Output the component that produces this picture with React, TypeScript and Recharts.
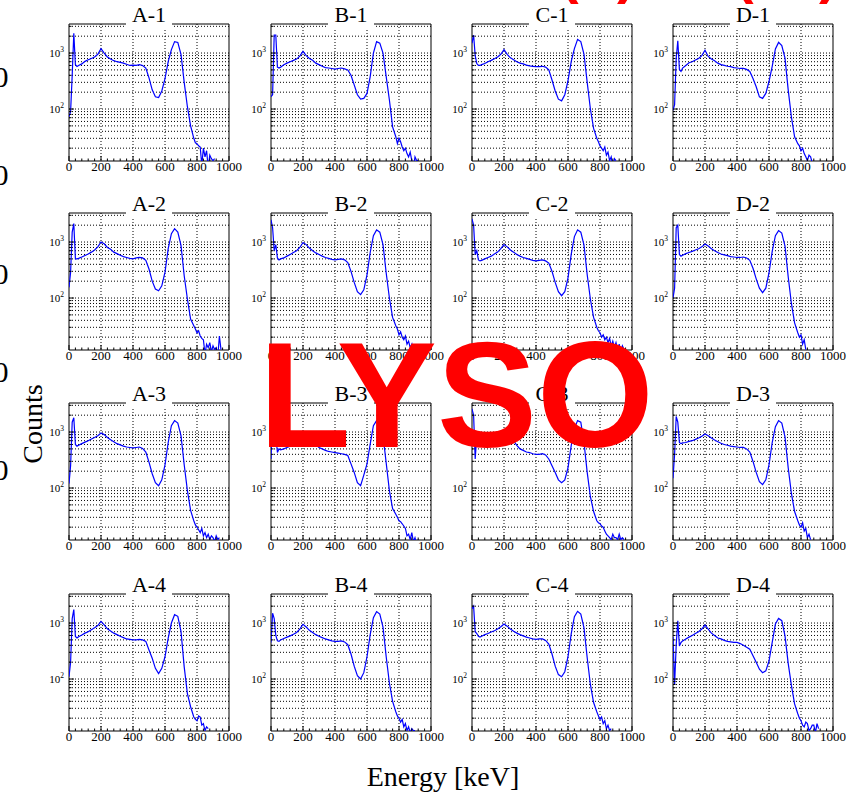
import React from "react";
import { LineChart, Line, XAxis, YAxis, CartesianGrid, ReferenceArea } from "recharts";

// Energy bin edges (keV) shared by every spectrum
const ENERGY = [
  0, 10, 20, 30, 40, 50, 60, 80, 100, 120,
  140, 160, 180, 200, 220, 240, 260, 280, 300, 320,
  340, 360, 380, 400, 420, 440, 460, 480, 500, 520,
  540, 560, 580, 600, 620, 640, 660, 680, 700, 720,
  740, 760, 780, 790, 800, 810, 820, 830, 840, 850,
  860, 870, 880, 890, 900, 910, 920, 930, 940, 950,
];

// Counts per bin for each crystal
const A1 = [73, 90, 400, 2250, 620, 575, 600, 640, 710, 760, 800, 850, 950, 1200, 1000, 850, 780, 730, 700, 680, 660, 630, 600, 610, 600, 620, 600, 540, 360, 220, 165, 160, 210, 350, 700, 1150, 1600, 1550, 950, 300, 110, 50, 30, 25, 24, 22, 21, 10, 20, 14, 18, 9, 15, 13, 12, 13, null, null, null, null];
const B1 = [166, 180, 2100, 2100, 560, 540, 560, 620, 660, 700, 740, 780, 880, 1070, 900, 800, 740, 660, 620, 580, 550, 540, 530, 516, 530, 540, 520, 500, 400, 270, 180, 150, 155, 190, 380, 1000, 1600, 1500, 1000, 380, 145, 48, 32, 24, 30, 26, 21, 18, 20, 16, 14, 17, 12, 9, 14, 12, 12, null, null, null];
const C1 = [1500, 2100, 900, 650, 600, 600, 620, 650, 700, 740, 790, 850, 950, 1150, 950, 820, 760, 700, 660, 640, 610, 590, 580, 570, 570, 580, 560, 500, 330, 210, 150, 140, 180, 320, 700, 1200, 1750, 1600, 950, 300, 100, 45, 30, 26, 22, 20, 18, 21, 15, 17, 12, 14, 9, 13, 12, null, null, null, null, null];
const D1 = [95, 120, 800, 1660, 510, 470, 540, 600, 670, 700, 750, 800, 900, 1120, 870, 780, 730, 660, 620, 600, 580, 570, 550, 540, 530, 530, 510, 470, 350, 250, 165, 155, 190, 310, 580, 1180, 1550, 1360, 810, 220, 72, 32, 24, 22, 18, 20, 16, 14, 12, 15, 14, 11, null, null, null, null, null, null, null, null];
const A2 = [155, 290, 1500, 2130, 500, 500, 510, 540, 575, 610, 660, 720, 820, 1000, 930, 800, 740, 660, 620, 580, 550, 530, 510, 500, 520, 530, 520, 470, 330, 200, 145, 135, 165, 290, 760, 1410, 1730, 1510, 870, 250, 96, 42, 32, 28, 24, 26, 21, 19, 18, 10, 15, 13, 16, 11, 14, 12, 13, 9, 21, 12];
const B2 = [2500, 1800, 700, 900, 520, 480, 500, 520, 560, 600, 650, 700, 800, 980, 900, 780, 700, 640, 600, 560, 530, 510, 490, 480, 490, 500, 480, 430, 300, 190, 130, 115, 140, 260, 650, 1300, 1650, 1500, 900, 280, 100, 45, 32, 28, 22, 25, 20, 18, 21, 15, 17, 13, 15, 9, 14, 11, 13, 12, 14, null];
const C2 = [2600, 2000, 600, 700, 480, 460, 470, 500, 530, 560, 610, 660, 760, 900, 820, 720, 660, 600, 560, 530, 510, 490, 470, 460, 470, 480, 460, 420, 300, 190, 130, 110, 130, 230, 600, 1250, 1650, 1500, 880, 260, 95, 45, 30, 26, 24, 20, 22, 18, 20, 16, 19, 14, 17, 13, 16, 12, 15, 11, 14, 12];
const D2 = [100, 150, 1800, 2000, 600, 560, 580, 620, 650, 680, 720, 760, 820, 920, 850, 760, 700, 650, 610, 590, 570, 550, 540, 530, 530, 540, 520, 470, 340, 220, 150, 125, 150, 280, 680, 1300, 1600, 1450, 850, 240, 80, 36, 24, 20, 22, 15, 18, 12, null, null, null, null, null, null, null, null, null, null, null, null];
const A3 = [120, 250, 1500, 1800, 600, 560, 580, 620, 660, 700, 750, 800, 860, 960, 900, 800, 730, 670, 620, 590, 560, 540, 530, 520, 530, 540, 510, 440, 290, 180, 125, 110, 140, 260, 650, 1300, 1600, 1450, 860, 260, 90, 40, 26, 22, 20, 18, 16, 19, 14, 16, 13, 15, 12, 14, 13, 11, 14, 12, 13, null];
const B3 = [330, 2100, 2100, 900, 430, 500, 480, 500, 530, 560, 590, 650, 750, 950, 880, 760, 680, 600, 530, 500, 470, 450, 440, 430, 420, 410, 400, 380, 270, 190, 125, 110, 170, 270, 610, 1300, 1600, 1500, 870, 280, 90, 43, 34, 30, 26, 25, 23, 21, 19, 14, 15, 12, 16, 11, 13, 10, 12, null, null, null];
const C3 = [2600, 2000, 330, 870, 570, 560, 560, 590, 610, 640, 680, 720, 800, 950, 880, 780, 700, 580, 500, 470, 440, 430, 410, 400, 400, 410, 390, 330, 250, 190, 140, 125, 140, 230, 570, 1150, 1600, 1500, 650, 190, 70, 38, 26, 24, 23, 21, 20, 17, 15, 14, 13, 12, 15, 13, 13, 12, 15, 12, 13, 12];
const D3 = [150, 400, 1900, 1500, 650, 620, 640, 650, 680, 700, 740, 780, 840, 920, 860, 780, 720, 670, 630, 600, 580, 560, 550, 540, 530, 530, 500, 440, 300, 190, 130, 115, 140, 260, 650, 1250, 1600, 1450, 820, 230, 80, 38, 26, 22, 20, 24, 17, 19, 13, 15, 12, null, null, null, null, null, null, null, null, null];
const A4 = [110, 200, 1200, 1740, 575, 540, 570, 610, 660, 700, 760, 820, 900, 1070, 930, 790, 720, 660, 620, 580, 550, 520, 510, 500, 500, 510, 500, 470, 330, 235, 155, 125, 155, 250, 540, 1000, 1410, 1320, 710, 165, 55, 32, 21, 19, 18, 22, 21, 15, 16, 12, 14, 13, null, null, null, null, null, null, null, null];
const B4 = [450, 1500, 1200, 600, 480, 470, 500, 530, 560, 590, 630, 680, 780, 950, 850, 740, 680, 620, 580, 550, 520, 500, 480, 470, 470, 480, 460, 410, 280, 170, 115, 100, 130, 250, 620, 1250, 1600, 1450, 850, 250, 85, 40, 26, 22, 20, 17, 19, 14, 16, 12, 14, 11, 13, 12, 12, null, null, null, null, null];
const C4 = [1800, 2000, 700, 650, 580, 560, 580, 620, 650, 690, 730, 780, 860, 960, 880, 780, 710, 660, 620, 590, 560, 540, 520, 510, 520, 520, 490, 420, 280, 170, 120, 110, 135, 250, 640, 1300, 1620, 1450, 820, 240, 80, 38, 26, 22, 19, 21, 16, 18, 13, 15, 12, 13, null, null, null, null, null, null, null, null];
const D4 = [570, 80, 400, 1100, 390, 450, 480, 520, 560, 600, 650, 700, 780, 920, 780, 660, 600, 540, 520, 490, 470, 460, 450, 450, 430, 400, 370, 340, 260, 200, 150, 130, 140, 210, 450, 960, 1210, 1100, 590, 190, 77, 36, 24, 20, 18, 15, 14, 17, 16, 12, 13, 15, 15, 11, 16, 13, null, null, null, null];

// Grid of crystals: rows 1..4, columns A..D
const COLUMNS = ["A", "B", "C", "D"];
const ROWS = ["1", "2", "3", "4"];
const SPECTRA: Record<string, (number | null)[]> = {
  "A-1": A1, "B-1": B1, "C-1": C1, "D-1": D1,
  "A-2": A2, "B-2": B2, "C-2": C2, "D-2": D2,
  "A-3": A3, "B-3": B3, "C-3": C3, "D-3": D3,
  "A-4": A4, "B-4": B4, "C-4": C4, "D-4": D4,
};

// Axis ticks
const X_TICKS = [0, 40, 80, 120, 160, 200, 240, 280, 320, 360, 400, 440, 480, 520, 560, 600, 640, 680, 720, 760, 800, 840, 880, 920, 960, 1000];
const X_GRID = [200, 400, 600, 800];
const Y_TICKS = [20, 30, 40, 50, 60, 70, 80, 90, 100, 200, 300, 400, 500, 600, 700, 800, 900, 1000, 2000, 3000];
const Y_DECADES: Record<number, string> = { 100: "2", 1000: "3" };
const Y_DOMAIN: [number, number] = [11.8, 3300];
const X_DOMAIN: [number, number] = [0, 1000];

// Outer labels
const OUTER_NUMBERS = ["500", "400", "300", "200", "100"];

const SERIF = '"Liberation Serif", "Times New Roman", Times, serif';
const SANS = '"Liberation Sans", Arial, Helvetica, sans-serif';

// Layout of the panels
const PLOT_LEFT = [69, 271, 472, 673];
const PLOT_TOP = [24, 213, 403, 594];
const PLOT_W = 160;
const PLOT_H = 137;
const AXIS_W = 40;
const PAD_TOP = 5;
const PAD_RIGHT = 16;
const AXIS_H = 20;

const MAJOR = 5;
const MINOR = 2.5;

function BottomTick(props: any) {
  const { x, y, payload } = props;
  const v = payload.value as number;
  const major = v % 200 === 0;
  return (
    <g>
      <line x1={x} x2={x} y1={y} y2={y - (major ? MAJOR : MINOR)} stroke="#000" strokeWidth={1} />
      {major && (
        <text x={x} y={y + 9.5} textAnchor="middle" fontSize={13} fontFamily={SERIF} fill="#000">
          {v}
        </text>
      )}
    </g>
  );
}

function TopTick(props: any) {
  const { x, y, payload } = props;
  const major = (payload.value as number) % 200 === 0;
  return <line x1={x} x2={x} y1={y} y2={y + (major ? MAJOR : MINOR)} stroke="#000" strokeWidth={1} />;
}

function LeftTick(props: any) {
  const { x, y, payload } = props;
  const v = payload.value as number;
  const exp = Y_DECADES[v];
  return (
    <g>
      <line x1={x} x2={x + (exp ? MAJOR : MINOR)} y1={y} y2={y} stroke="#000" strokeWidth={1} />
      {exp && (
        <text x={x - 5} y={y + 4} textAnchor="end" fontSize={11} fontFamily={SERIF} fill="#000">
          10
          <tspan dy={-5} fontSize={7.5}>
            {exp}
          </tspan>
        </text>
      )}
    </g>
  );
}

function RightTick(props: any) {
  const { x, y, payload } = props;
  const major = !!Y_DECADES[payload.value as number];
  return <line x1={x} x2={x - (major ? MAJOR : MINOR)} y1={y} y2={y} stroke="#000" strokeWidth={1} />;
}

function Panel({ name, left, top }: { name: string; left: number; top: number }) {
  const counts = SPECTRA[name];
  const rows = ENERGY.map((e, i) => ({ e, c: counts[i] ?? null }));
  return (
    <div style={{ position: "absolute", left: left - AXIS_W, top: top - PAD_TOP }}>
      <LineChart
        width={AXIS_W + PLOT_W + PAD_RIGHT}
        height={PAD_TOP + PLOT_H + AXIS_H}
        data={rows}
        margin={{ top: PAD_TOP, right: PAD_RIGHT, bottom: 0, left: 0 }}
      >
        <CartesianGrid
          stroke="#000"
          strokeWidth={1}
          strokeDasharray="1 2"
          horizontalValues={Y_TICKS}
          verticalValues={X_GRID}
        />
        <XAxis
          dataKey="e"
          type="number"
          domain={X_DOMAIN}
          ticks={X_TICKS}
          interval={0}
          height={AXIS_H}
          tickSize={0}
          tickMargin={0}
          axisLine={false}
          tickLine={false}
          tick={(p: any) => <BottomTick {...p} />}
          allowDataOverflow
        />
        <XAxis
          xAxisId="top"
          orientation="top"
          type="number"
          domain={X_DOMAIN}
          ticks={X_TICKS}
          interval={0}
          height={0}
          tickSize={0}
          tickMargin={0}
          axisLine={false}
          tickLine={false}
          tick={(p: any) => <TopTick {...p} />}
          allowDataOverflow
        />
        <YAxis
          type="number"
          scale="log"
          domain={Y_DOMAIN}
          ticks={Y_TICKS}
          interval={0}
          width={AXIS_W}
          tickSize={0}
          tickMargin={0}
          axisLine={false}
          tickLine={false}
          tick={(p: any) => <LeftTick {...p} />}
          allowDataOverflow
        />
        <YAxis
          yAxisId="right"
          orientation="right"
          type="number"
          scale="log"
          domain={Y_DOMAIN}
          ticks={Y_TICKS}
          interval={0}
          width={0}
          tickSize={0}
          tickMargin={0}
          axisLine={false}
          tickLine={false}
          tick={(p: any) => <RightTick {...p} />}
          allowDataOverflow
        />
        <Line
          dataKey="c"
          type="linear"
          stroke="#0000ff"
          strokeWidth={1.2}
          dot={false}
          activeDot={false}
          isAnimationActive={false}
          connectNulls={false}
        />
        <ReferenceArea
          x1={X_DOMAIN[0]}
          x2={X_DOMAIN[1]}
          y1={Y_DOMAIN[0]}
          y2={Y_DOMAIN[1]}
          fill="none"
          stroke="#000"
          strokeWidth={1}
          ifOverflow="visible"
        />
      </LineChart>
    </div>
  );
}

export default function App() {
  const panels: { name: string; left: number; top: number }[] = [];
  ROWS.forEach((r, ri) =>
    COLUMNS.forEach((c, ci) => panels.push({ name: `${c}-${r}`, left: PLOT_LEFT[ci], top: PLOT_TOP[ri] }))
  );

  return (
    <div
      style={{
        position: "absolute",
        left: 0,
        top: 0,
        width: 854,
        height: 796,
        overflow: "hidden",
        background: "#fff",
      }}
    >
      {panels.map((p) => (
        <Panel key={p.name} {...p} />
      ))}
      <svg
        width={854}
        height={796}
        style={{ position: "absolute", left: 0, top: 0, pointerEvents: "none", overflow: "hidden" }}
      >
        {panels.map((p) => {
          const cx = p.left + PLOT_W / 2;
          return (
            <g key={p.name}>
              <rect x={cx - 23} y={p.top - 22} width={46} height={27} fill="#fff" />
              <text x={cx} y={p.top - 2} textAnchor="middle" fontSize={22} fontFamily={SERIF} fill="#000">
                {p.name}
              </text>
            </g>
          );
        })}

        {OUTER_NUMBERS.map((n, i) => (
          <text key={n} x={8.5} y={87 + i * 98.3} textAnchor="end" fontSize={30} fontFamily={SERIF} fill="#000">
            {n}
          </text>
        ))}

        <text transform="translate(42 424) rotate(-90)" textAnchor="middle" fontSize={28} fontFamily={SERIF} fill="#000">
          Counts
        </text>
        <text x={443} y={786} textAnchor="middle" fontSize={28} fontFamily={SERIF} fill="#000">
          Energy [keV]
        </text>

        {/* heading line above the figure: only the lowest few pixels fall inside the page */}
        <svg x={0} y={0} width={854} height={5} overflow="hidden">
          <text y={-8} fontSize={56} fontWeight="bold" fontFamily={SANS} fill="#ff0000">
            <tspan x={560}>(</tspan>
            <tspan>137Cs</tspan>
            <tspan x={617}>)</tspan>
            <tspan x={735}>(</tspan>
            <tspan>662 keV</tspan>
            <tspan x={819}>)</tspan>
          </text>
        </svg>

        <text x={259} y={447} fontSize={150} fontWeight="bold" fontFamily={SANS} fill="#ff0000">
          LYSO
        </text>
      </svg>
    </div>
  );
}
